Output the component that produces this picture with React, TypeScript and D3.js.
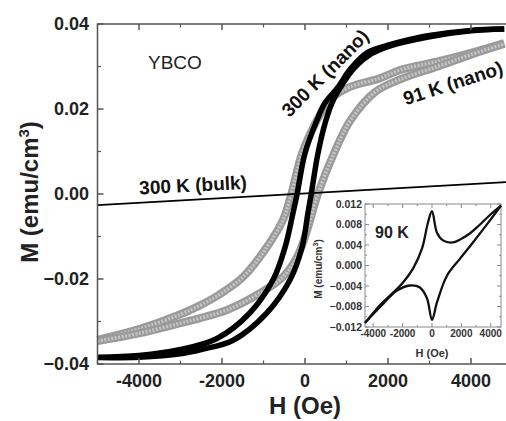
import React from 'react';
import * as d3 from 'd3';

// 300 K (nano) loop, black squares
const H_300_DESC = [4800, 4000, 3000, 2500, 2000, 1500, 1100, 800, 480, 290, 0, -190, -290, -480, -770, -1330, -2120, -3000, -4000, -5000];
const M_300_DESC = [0.0388, 0.0385, 0.0373, 0.0363, 0.035, 0.0333, 0.0295, 0.0252, 0.0214, 0.0174, 0.0096, 0.0, -0.0045, -0.0125, -0.0202, -0.028, -0.034, -0.0366, -0.038, -0.0384];
const H_300_ASC = [-5000, -4000, -3000, -2500, -1730, -920, -360, -70, 70, 150, 313, 506, 650, 900, 1200, 1600, 2000, 3000, 4000, 4800];
const M_300_ASC = [-0.0385, -0.0384, -0.0376, -0.0366, -0.0344, -0.028, -0.0202, -0.0125, -0.0045, 0.0, 0.0096, 0.0174, 0.0214, 0.0258, 0.0298, 0.033, 0.0347, 0.037, 0.0384, 0.0388];

// 91 K (nano) loop, grey open circles
const H_91_DESC = [4800, 4000, 3200, 2300, 1800, 1085, 600, 290, -70, -330, -530, -920, -1490, -2120, -2530, -3000, -4000, -5000];
const M_91_DESC = [0.0355, 0.0332, 0.0312, 0.0292, 0.0272, 0.0252, 0.0222, 0.0174, 0.0096, 0.0, -0.0061, -0.0125, -0.0195, -0.024, -0.0262, -0.0283, -0.0318, -0.0343];
const H_91_ASC = [-5000, -4000, -3000, -2530, -1880, -1080, -530, -190, 50, 310, 700, 1100, 1690, 2300, 3200, 4000, 4800];
const M_91_ASC = [-0.0346, -0.0328, -0.0304, -0.0292, -0.0273, -0.0233, -0.0195, -0.0148, -0.0085, 0.0, 0.0096, 0.0174, 0.024, 0.027, 0.03, 0.0328, 0.0353];

// 300 K (bulk)
const H_BULK = [-5000, 5000];
const M_BULK = [-0.0026, 0.0029];

// inset, 90 K
const H_90_DESC = [4700, 4000, 3200, 2600, 2000, 1430, 750, 340, 0, -270, -680, -1290, -1970, -2650, -3500, -4560];
const M_90_DESC = [0.0117, 0.01, 0.0078, 0.0063, 0.0052, 0.0045, 0.0049, 0.0064, 0.0106, 0.0084, 0.0033, -0.0006, -0.0033, -0.0053, -0.0076, -0.0112];
const H_90_ASC = [-4560, -3500, -2380, -1500, -820, -340, 0, 340, 1020, 1900, 2790, 3950, 4700];
const M_90_ASC = [-0.0112, -0.008, -0.0049, -0.0039, -0.0043, -0.0064, -0.0106, -0.0072, -0.002, 0.0013, 0.0045, 0.0088, 0.0117];

const X_TICKS = [-4000, -2000, 0, 2000, 4000];
const X_MINOR = [-5000, -3000, -1000, 1000, 3000, 5000];
const Y_TICKS = [0.04, 0.02, 0.0, -0.02, -0.04];
const Y_MINOR = [0.03, 0.01, -0.01, -0.03];
const IN_X_TICKS = [-4000, -2000, 0, 2000, 4000];
const IN_X_MINOR = [-3000, -1000, 1000, 3000];
const IN_Y_TICKS = [0.012, 0.008, 0.004, 0.0, -0.004, -0.008, -0.012];
const IN_Y_MINOR = [0.01, 0.006, 0.002, -0.002, -0.006, -0.01];

const FONT = '"Liberation Sans", Arial, sans-serif';
const W = 506;
const H = 421;

const pts = (hs: number[], ms: number[]) => hs.map((h, i) => [h, ms[i]] as [number, number]);

export default function App() {
  const x = d3.scaleLinear().domain([-5000, 5000]).range([97.5, 512.5]);
  const y = d3.scaleLinear().domain([-0.04, 0.04]).range([364, 24]);
  const line = d3.line<[number, number]>().x(d => x(d[0])).y(d => y(d[1])).curve(d3.curveCatmullRom.alpha(0.5));

  const ix = d3.scaleLinear().domain([-4560, 4700]).range([365, 501]);
  const iy = d3.scaleLinear().domain([-0.012, 0.012]).range([327, 204]);
  const iline = d3.line<[number, number]>().x(d => ix(d[0])).y(d => iy(d[1])).curve(d3.curveCatmullRom.alpha(0.5));

  const fmtY = (v: number) => (v === 0 ? '0.00' : d3.format('.2f')(v));
  const fmtIY = (v: number) => (v === 0 ? '0.000' : d3.format('.3f')(v));
  const axisColor = '#555';

  return (
    <svg width={W} height={H} style={{ position: 'fixed', left: 0, top: 0, background: '#fff' }} fontFamily={FONT}>
      <rect width={W} height={H} fill="#fff" />

      {/* grey 91 K loop */}
      {[pts(H_91_DESC, M_91_DESC), pts(H_91_ASC, M_91_ASC)].map((p, i) => (
        <g key={'g' + i}>
          <path d={line(p) || ''} fill="none" stroke="#9a9a9a" strokeWidth={8} />
          <path d={line(p) || ''} fill="none" stroke="#c4c4c4" strokeWidth={3.5} strokeDasharray="2 1.5" />
        </g>
      ))}

      {/* black 300 K loop */}
      {[pts(H_300_DESC, M_300_DESC), pts(H_300_ASC, M_300_ASC)].map((p, i) => (
        <path key={'b' + i} d={line(p) || ''} fill="none" stroke="#000" strokeWidth={5.5} />
      ))}

      {/* bulk */}
      <path d={line(pts(H_BULK, M_BULK)) || ''} fill="none" stroke="#000" strokeWidth={1.8} />

      {/* frame */}
      <path d={`M${W + 2},${y(0.04)}H${x(-5000)}V${y(-0.04)}H${W + 2}`} fill="none" stroke={axisColor} strokeWidth={1.5} />
      {X_TICKS.map(t => (
        <g key={'xt' + t}>
          <line x1={x(t)} x2={x(t)} y1={y(-0.04)} y2={y(-0.04) - 6} stroke={axisColor} strokeWidth={1.5} />
          <line x1={x(t)} x2={x(t)} y1={y(0.04)} y2={y(0.04) + 6} stroke={axisColor} strokeWidth={1.5} />
          <text x={x(t)} y={387} textAnchor="middle" fontSize={18} fontWeight="bold" fill="#222">{t}</text>
        </g>
      ))}
      {X_MINOR.map(t => (
        <g key={'xm' + t}>
          <line x1={x(t)} x2={x(t)} y1={y(-0.04)} y2={y(-0.04) - 3.5} stroke={axisColor} strokeWidth={1.2} />
          <line x1={x(t)} x2={x(t)} y1={y(0.04)} y2={y(0.04) + 3.5} stroke={axisColor} strokeWidth={1.2} />
        </g>
      ))}
      {Y_TICKS.map(t => (
        <g key={'yt' + t}>
          <line x1={x(-5000)} x2={x(-5000) + 6} y1={y(t)} y2={y(t)} stroke={axisColor} strokeWidth={1.5} />
          <text x={89} y={y(t)} dy="0.36em" textAnchor="end" fontSize={18} fontWeight="bold" fill="#222">{fmtY(t)}</text>
        </g>
      ))}
      {Y_MINOR.map(t => (
        <line key={'ym' + t} x1={x(-5000)} x2={x(-5000) + 3.5} y1={y(t)} y2={y(t)} stroke={axisColor} strokeWidth={1.2} />
      ))}

      {/* axis titles */}
      <text x={305} y={414} textAnchor="middle" fontSize={24} fontWeight="bold" fill="#222">H (Oe)</text>
      <text transform="translate(38,192) rotate(-90)" textAnchor="middle" fontSize={24} fontWeight="bold" fill="#222">
        M (emu/cm<tspan dy={-9} fontSize={15}>3</tspan><tspan dy={9}>)</tspan>
      </text>

      {/* annotations */}
      <text x={148} y={69} fontSize={19} fill="#222">YBCO</text>
      <text transform="translate(193,185) rotate(-3)" textAnchor="middle" dy="0.35em" fontSize={19} fontWeight="bold" fill="#111">300 K (bulk)</text>
      <text transform="translate(325,73) rotate(-45)" textAnchor="middle" dy="0.35em" fontSize={19} fontWeight="bold" fill="#111">300 K (nano)</text>
      <text transform="translate(453,83) rotate(-18)" textAnchor="middle" dy="0.35em" fontSize={19} fontWeight="bold" fill="#111">91 K (nano)</text>

      {/* inset */}
      <rect x={365} y={204} width={136} height={123} fill="#fff" stroke="#8a8a8a" strokeWidth={1} />
      {IN_X_TICKS.map(t => (
        <g key={'ixt' + t}>
          <line x1={ix(t)} x2={ix(t)} y1={327} y2={323} stroke="#8a8a8a" />
          <line x1={ix(t)} x2={ix(t)} y1={204} y2={208} stroke="#8a8a8a" />
          <text x={ix(t)} y={337} textAnchor="middle" fontSize={10} fontWeight="bold" fill="#333">{t}</text>
        </g>
      ))}
      {IN_X_MINOR.map(t => (
        <g key={'ixm' + t}>
          <line x1={ix(t)} x2={ix(t)} y1={327} y2={325} stroke="#8a8a8a" />
          <line x1={ix(t)} x2={ix(t)} y1={204} y2={206} stroke="#8a8a8a" />
        </g>
      ))}
      {IN_Y_TICKS.map(t => (
        <g key={'iyt' + t}>
          <line x1={365} x2={369} y1={iy(t)} y2={iy(t)} stroke="#8a8a8a" />
          <line x1={501} x2={497} y1={iy(t)} y2={iy(t)} stroke="#8a8a8a" />
          <text x={362} y={iy(t)} dy="0.36em" textAnchor="end" fontSize={10.5} fontWeight="bold" fill="#333">{fmtIY(t)}</text>
        </g>
      ))}
      {IN_Y_MINOR.map(t => (
        <g key={'iym' + t}>
          <line x1={365} x2={367} y1={iy(t)} y2={iy(t)} stroke="#8a8a8a" />
          <line x1={501} x2={499} y1={iy(t)} y2={iy(t)} stroke="#8a8a8a" />
        </g>
      ))}
      {[pts(H_90_DESC, M_90_DESC), pts(H_90_ASC, M_90_ASC)].map((p, i) => (
        <path key={'i' + i} d={iline(p) || ''} fill="none" stroke="#111" strokeWidth={2.3} />
      ))}
      <text x={375} y={238} fontSize={16} fontWeight="bold" fill="#222">90 K</text>
      <text x={432} y={357} textAnchor="middle" fontSize={11} fontWeight="bold" fill="#333">H (Oe)</text>
      <text transform="translate(322,269) rotate(-90)" textAnchor="middle" fontSize={10} fontWeight="bold" fill="#333">
        M (emu/cm<tspan dy={-4} fontSize={7}>3</tspan><tspan dy={4}>)</tspan>
      </text>
    </svg>
  );
}
